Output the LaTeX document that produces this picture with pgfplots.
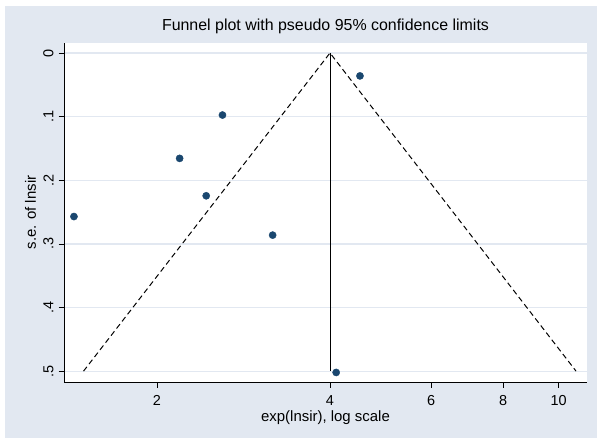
\documentclass[border=0pt]{standalone}
\usepackage{pgfplots}
\pgfplotsset{compat=1.18}
\usepackage{fontspec}
\setmainfont{Liberation Sans}

\definecolor{stbg}{RGB}{226,232,241}
\definecolor{stgrid}{RGB}{226,232,241}
\definecolor{stnavy}{RGB}{26,71,111}

\begin{document}
\begin{tikzpicture}
% page and Stata graph region
\fill[white] (0,0) rectangle (597bp,439bp);
\fill[stbg] (5bp,1bp) rectangle (597bp,433bp);
\begin{axis}[
    at={(64bp,57bp)}, anchor=south west,
    scale only axis,
    width=523bp, height=339bp,
    axis background/.style={fill=white},
    xmode=log,
    xmin=1.378, xmax=11.2,
    ymin=-0.0157, ymax=0.517,
    y dir=reverse,
    axis lines*=left,
    axis line style={black, line width=0.9pt},
    xtick={2,4,6,8,10},
    xticklabels={2,4,6,8,10},
    minor xtick={},
    ytick={0,0.1,0.2,0.3,0.4,0.5},
    yticklabels={0,.1,.2,.3,.4,.5},
    tick align=outside,
    major tick length=5.5bp,
    tick style={black, line width=0.8pt},
    ymajorgrids=true,
    grid style={stgrid, line width=1.2pt},
    tick label style={font=\fontsize{14.5}{16}\selectfont},
    y tick label style={xshift=-10bp, rotate=90, anchor=center},
    x tick label style={yshift=-13bp, anchor=center},
    yticklabel shift=0bp,
    xticklabel shift=0bp,
    /pgf/number format/assume math mode=true,
    title={Funnel plot with pseudo 95\% confidence limits},
    title style={at={(axis description cs:0.5,1.0324)}, anchor=center, font=\fontsize{16}{18}\selectfont},
    xlabel={exp(lnsir), log scale},
    ylabel={s.e. of lnsir},
    xlabel style={at={(axis description cs:0.5,-0.104)}, anchor=center, font=\fontsize{15}{17}\selectfont},
    ylabel style={at={(axis description cs:-0.064,0.5)}, anchor=center, font=\fontsize{15}{17}\selectfont},
    clip=false,
]
% pseudo 95% confidence limits
\addplot[black, dash pattern=on 5.5bp off 3.5bp, line width=1pt] coordinates {(1.49,0.5)(4,0)(10.72,0.5)};
% pooled estimate
\addplot[black, line width=1pt] coordinates {(4,0)(4,0.5)};
% studies
\addplot[only marks, mark=*, mark size=3.6bp, stnavy] coordinates {
    (4.51,0.036)
    (2.60,0.0975)
    (2.19,0.1656)
    (2.436,0.2244)
    (1.434,0.257)
    (3.179,0.2862)
    (4.10,0.502)
};
\end{axis}
\end{tikzpicture}
\end{document}
